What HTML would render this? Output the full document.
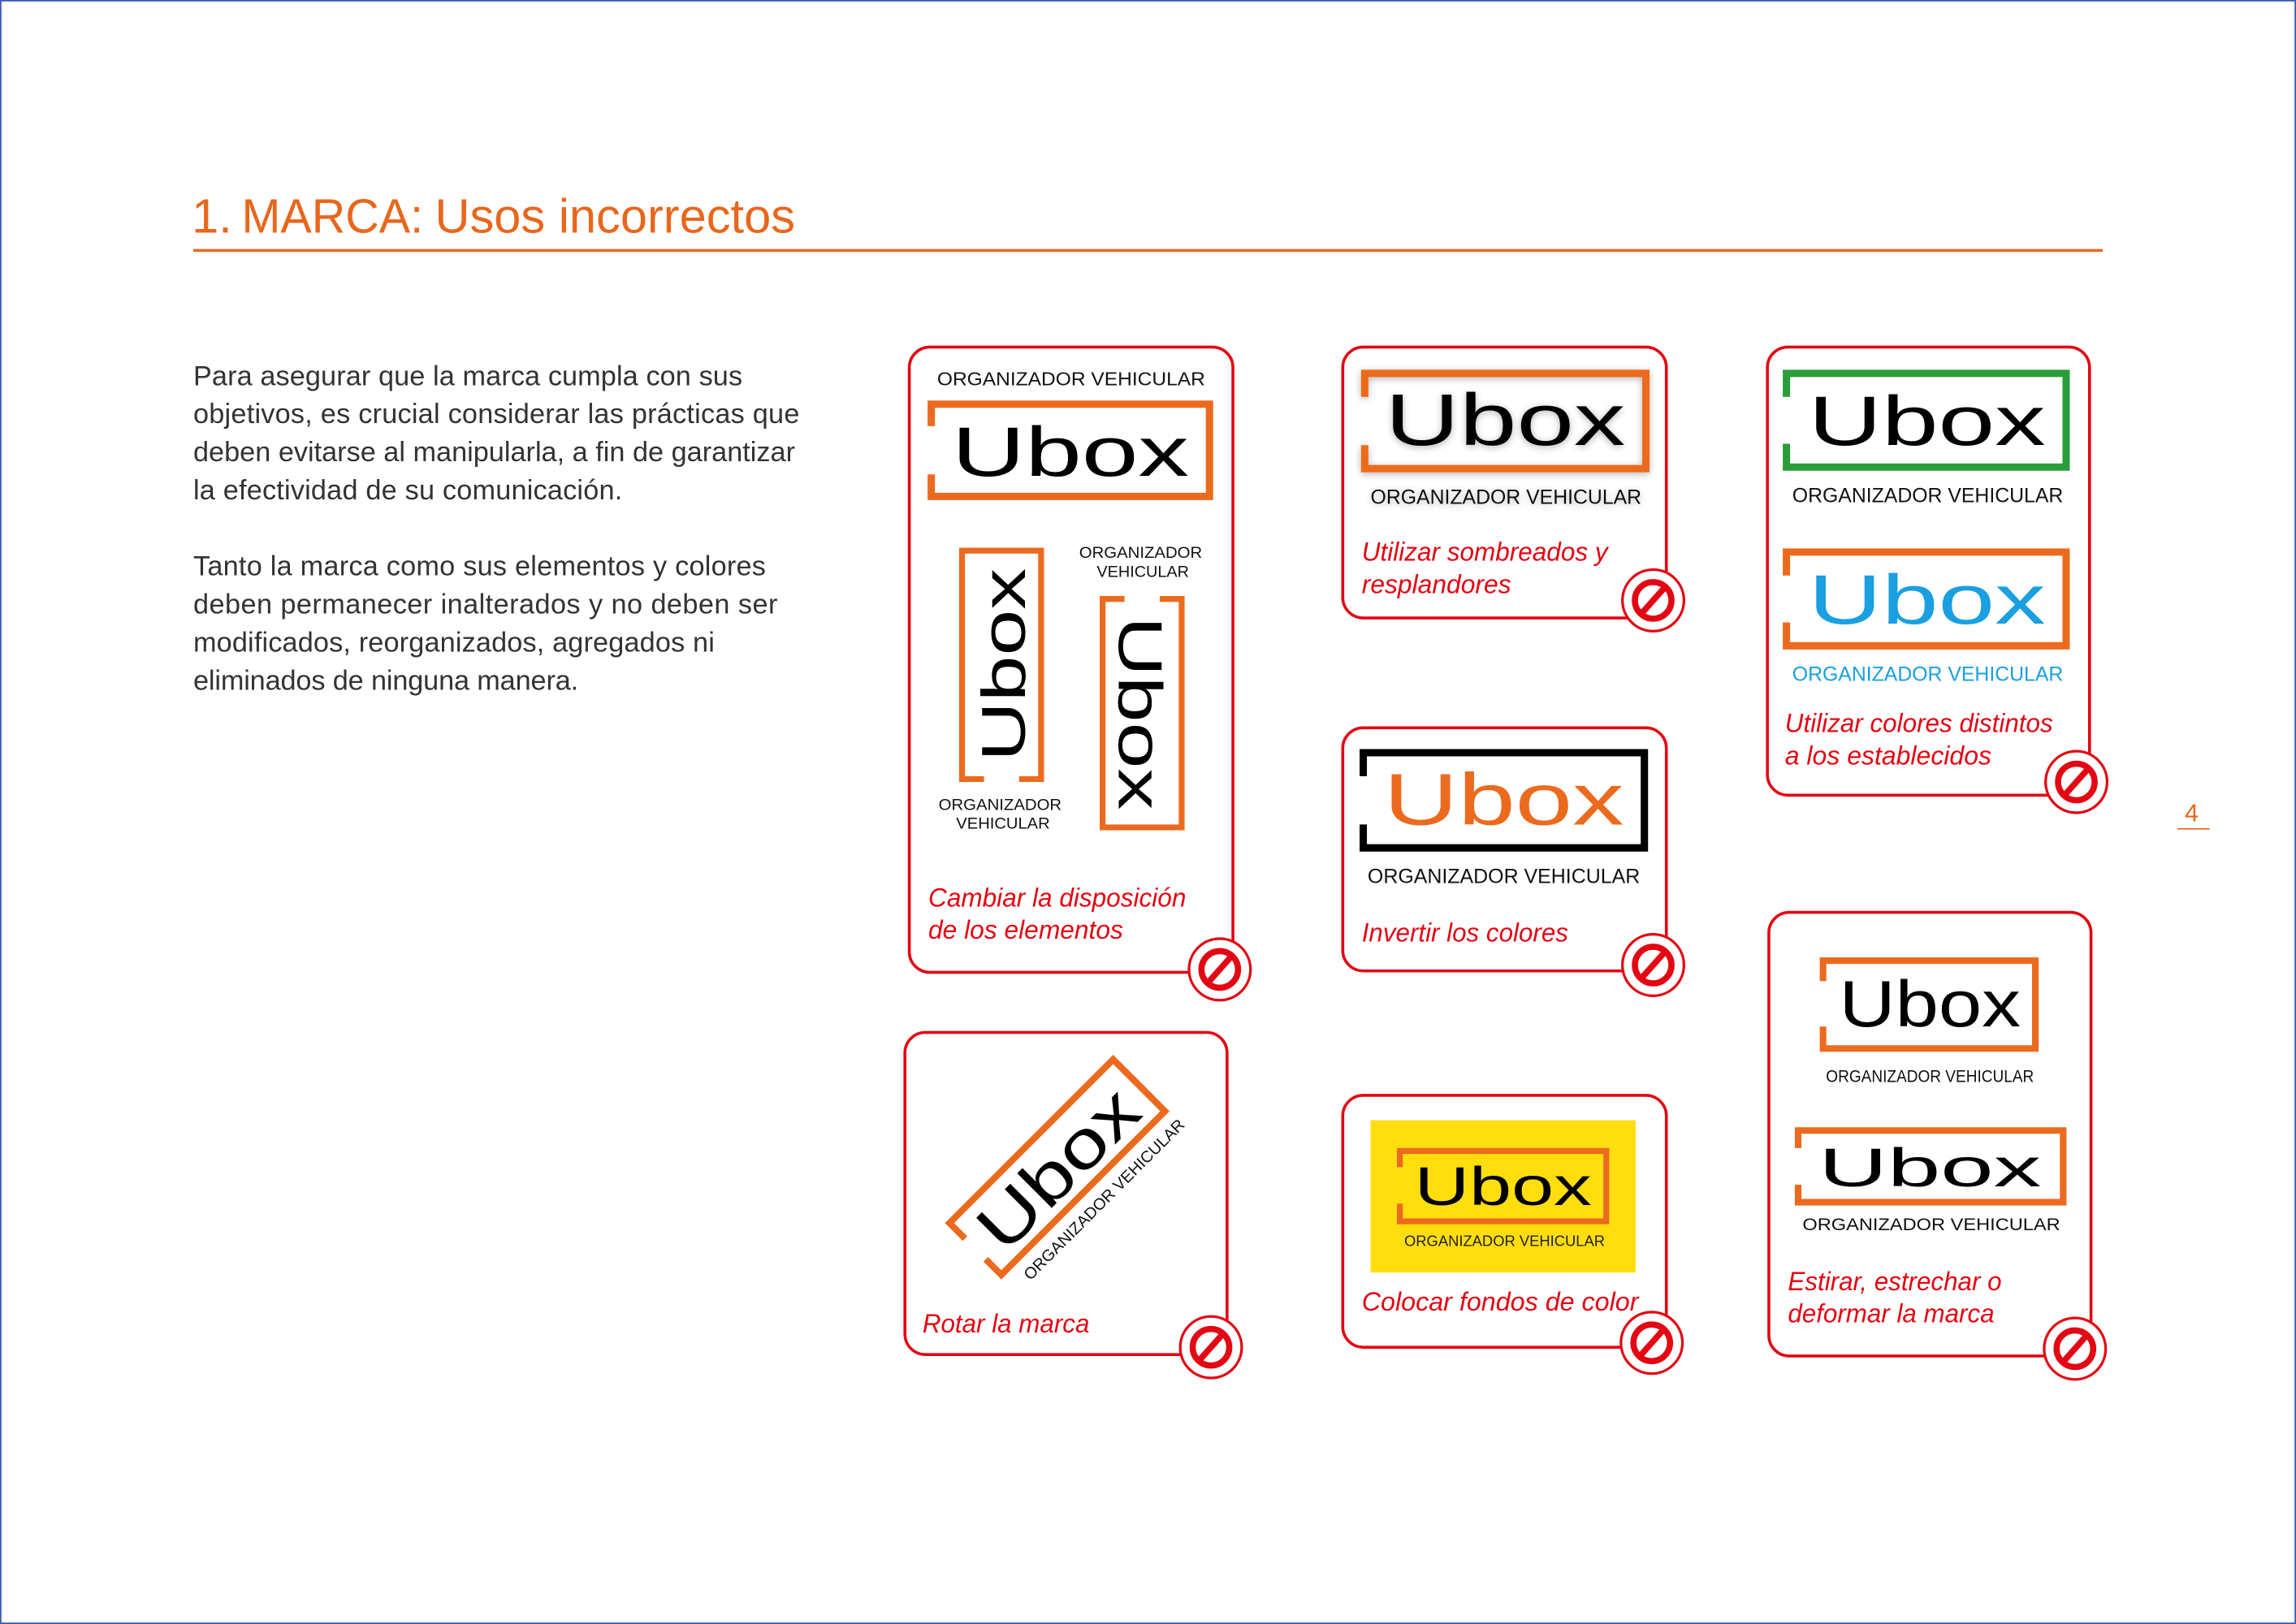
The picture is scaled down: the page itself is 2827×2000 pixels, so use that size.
<!DOCTYPE html>
<html><head><meta charset="utf-8"><style>
html,body{margin:0;padding:0;background:#fff}
svg{display:block}
</style></head><body>
<svg width="2827" height="2000" viewBox="0 0 1568 1109" preserveAspectRatio="none" xmlns="http://www.w3.org/2000/svg" font-family="Liberation Sans, sans-serif">
<defs>
<filter id="sh" x="-20%" y="-30%" width="140%" height="160%"><feGaussianBlur in="SourceAlpha" stdDeviation="2.5"/><feOffset dx="0" dy="1"/><feComponentTransfer><feFuncA type="linear" slope="0.3"/></feComponentTransfer><feMerge><feMergeNode/><feMergeNode in="SourceGraphic"/></feMerge></filter>
<g id="no">
<circle r="21" fill="#fff" stroke="#e30613" stroke-width="1.8"/>
<circle r="12.5" fill="none" stroke="#e30613" stroke-width="4.2"/>
<line x1="8" y1="-9" x2="-8" y2="9" stroke="#e30613" stroke-width="4.2"/>
</g>
</defs>
<rect x="0.5" y="0.5" width="1567" height="1108" fill="#fff" stroke="#3a5cb0" stroke-width="1"/>

<!-- title -->
<g font-size="33" fill="#e8671c">
<text x="131" y="159">1.</text>
<text x="165" y="159" textLength="124" lengthAdjust="spacingAndGlyphs">MARCA:</text>
<text x="297" y="159" textLength="246" lengthAdjust="spacingAndGlyphs">Usos incorrectos</text>
</g>
<line x1="132" y1="171" x2="1436" y2="171" stroke="#ec6a1e" stroke-width="2"/>

<!-- body -->
<g font-size="19" fill="#333">
<text x="132" y="263" textLength="375">Para asegurar que la marca cumpla con sus</text>
<text x="132" y="289" textLength="414">objetivos, es crucial considerar las prácticas que</text>
<text x="132" y="315" textLength="411">deben evitarse al manipularla, a fin de garantizar</text>
<text x="132" y="341" textLength="293">la efectividad de su comunicación.</text>
<text x="132" y="393" textLength="391">Tanto la marca como sus elementos y colores</text>
<text x="132" y="419" textLength="399">deben permanecer inalterados y no deben ser</text>
<text x="132" y="445" textLength="356">modificados, reorganizados, agregados ni</text>
<text x="132" y="471" textLength="263">eliminados de ninguna manera.</text>
</g>

<text x="1492" y="561" font-size="17" fill="#e8671c">4</text>
<line x1="1487" y1="566" x2="1509" y2="566" stroke="#e8671c" stroke-width="1"/>

<!-- cards -->
<g fill="none" stroke="#e30613" stroke-width="2">
<rect x="621" y="237" width="221" height="427" rx="14"/>
<rect x="917" y="237" width="221" height="185" rx="14"/>
<rect x="1207" y="237" width="220" height="306" rx="14"/>
<rect x="917" y="497" width="221" height="166" rx="14"/>
<rect x="618" y="705" width="220" height="220" rx="14"/>
<rect x="917" y="748" width="221" height="172" rx="14"/>
<rect x="1208" y="623" width="220" height="303" rx="14"/>
</g>

<!-- captions -->
<g font-size="18" font-style="italic" fill="#e30613">
<text x="634" y="619" textLength="176" lengthAdjust="spacingAndGlyphs">Cambiar la disposición</text>
<text x="634" y="641" textLength="133" lengthAdjust="spacingAndGlyphs">de los elementos</text>
<text x="930" y="383" textLength="168" lengthAdjust="spacingAndGlyphs">Utilizar sombreados y</text>
<text x="930" y="405" textLength="102" lengthAdjust="spacingAndGlyphs">resplandores</text>
<text x="1219" y="500" textLength="183" lengthAdjust="spacingAndGlyphs">Utilizar colores distintos</text>
<text x="1219" y="522" textLength="141" lengthAdjust="spacingAndGlyphs">a los establecidos</text>
<text x="930" y="643" textLength="141" lengthAdjust="spacingAndGlyphs">Invertir los colores</text>
<text x="630" y="910" textLength="114" lengthAdjust="spacingAndGlyphs">Rotar la marca</text>
<text x="930" y="895" textLength="189" lengthAdjust="spacingAndGlyphs">Colocar fondos de color</text>
<text x="1221" y="881" textLength="146" lengthAdjust="spacingAndGlyphs">Estirar, estrechar o</text>
<text x="1221" y="903" textLength="141" lengthAdjust="spacingAndGlyphs">deformar la marca</text>
</g>

<!-- card1 logos -->
<text x="640" y="263" font-size="13" fill="#111" textLength="183" lengthAdjust="spacingAndGlyphs">ORGANIZADOR VEHICULAR</text>
<path d="M636 291 V276 H826 V339 H636 V324" fill="none" stroke="#ec6a1e" stroke-width="5"/>
<text x="650" y="325" font-size="48" fill="#000" textLength="162" lengthAdjust="spacingAndGlyphs">Ubox</text>

<g transform="translate(684 454) rotate(-90)">
<path d="M-78 -12 V-27 H78 V27 H-78 V12" fill="none" stroke="#ec6a1e" stroke-width="4"/>
<text x="-66" y="16" font-size="42" fill="#000" textLength="132" lengthAdjust="spacingAndGlyphs">Ubox</text>
</g>
<text x="641" y="553" font-size="11" fill="#111" textLength="84" lengthAdjust="spacingAndGlyphs">ORGANIZADOR</text>
<text x="653" y="566" font-size="11" fill="#111" textLength="64" lengthAdjust="spacingAndGlyphs">VEHICULAR</text>

<text x="737" y="381" font-size="11" fill="#111" textLength="84" lengthAdjust="spacingAndGlyphs">ORGANIZADOR</text>
<text x="749" y="394" font-size="11" fill="#111" textLength="63" lengthAdjust="spacingAndGlyphs">VEHICULAR</text>
<g transform="translate(780 487) rotate(90)">
<path d="M-78 -12 V-27 H78 V27 H-78 V12" fill="none" stroke="#ec6a1e" stroke-width="4"/>
<text x="-66" y="16" font-size="42" fill="#000" textLength="132" lengthAdjust="spacingAndGlyphs">Ubox</text>
</g>

<!-- card2 shadow -->
<g filter="url(#sh)">
<path d="M932 271 V255 H1124 V320 H932 V304" fill="none" stroke="#ec6a1e" stroke-width="5"/>
<text x="946" y="304" font-size="50" fill="#000" textLength="164" lengthAdjust="spacingAndGlyphs">Ubox</text>
<text x="936" y="344" font-size="14" fill="#111" textLength="185" lengthAdjust="spacingAndGlyphs">ORGANIZADOR VEHICULAR</text>
</g>

<!-- card3 -->
<path d="M1220 271 V255 H1411 V319 H1220 V303" fill="none" stroke="#2a9d3a" stroke-width="5"/>
<text x="1235" y="304" font-size="48" fill="#000" textLength="162" lengthAdjust="spacingAndGlyphs">Ubox</text>
<text x="1224" y="343" font-size="14" fill="#111" textLength="185" lengthAdjust="spacingAndGlyphs">ORGANIZADOR VEHICULAR</text>
<path d="M1220 393 V377 H1411 V441 H1220 V425" fill="none" stroke="#ec6a1e" stroke-width="5"/>
<text x="1235" y="426" font-size="48" fill="#1a9fe0" textLength="162" lengthAdjust="spacingAndGlyphs">Ubox</text>
<text x="1224" y="465" font-size="14" fill="#1a9fe0" textLength="185" lengthAdjust="spacingAndGlyphs">ORGANIZADOR VEHICULAR</text>

<!-- card4 inverted -->
<path d="M931 530 V514 H1123 V579 H931 V563" fill="none" stroke="#000" stroke-width="5"/>
<text x="945" y="563" font-size="50" fill="#ec6a1e" textLength="164" lengthAdjust="spacingAndGlyphs">Ubox</text>
<text x="934" y="603" font-size="14" fill="#111" textLength="186" lengthAdjust="spacingAndGlyphs">ORGANIZADOR VEHICULAR</text>

<!-- card5 rotated -->
<g transform="translate(722 797) rotate(-45)">
<path d="M-79 -10 V-25 H79 V25 H-79 V10" fill="none" stroke="#ec6a1e" stroke-width="4.5"/>
<text x="-68" y="17" font-size="46" fill="#000" textLength="135" lengthAdjust="spacingAndGlyphs">Ubox</text>
<text x="-68" y="42" font-size="11" fill="#111" textLength="150" lengthAdjust="spacingAndGlyphs">ORGANIZADOR VEHICULAR</text>
</g>

<!-- card6 yellow -->
<rect x="936" y="765" width="181" height="104" fill="#ffdd0f"/>
<path d="M956 797 V786 H1097 V834 H956 V822" fill="none" stroke="#ec6a1e" stroke-width="4"/>
<text x="966" y="823" font-size="37" fill="#000" textLength="121" lengthAdjust="spacingAndGlyphs">Ubox</text>
<text x="959" y="851" font-size="10" fill="#222" textLength="137" lengthAdjust="spacingAndGlyphs">ORGANIZADOR VEHICULAR</text>

<!-- card7 stretched -->
<path d="M1245 670 V656 H1390 V716 H1245 V701" fill="none" stroke="#ec6a1e" stroke-width="4.5"/>
<text x="1256" y="701" font-size="45" fill="#000" textLength="124" lengthAdjust="spacingAndGlyphs">Ubox</text>
<text x="1247" y="739" font-size="12" fill="#111" textLength="142" lengthAdjust="spacingAndGlyphs">ORGANIZADOR VEHICULAR</text>
<path d="M1228 784 V772 H1409 V821 H1228 V809" fill="none" stroke="#ec6a1e" stroke-width="4.5"/>
<text x="1242" y="810" font-size="37" fill="#000" textLength="152" lengthAdjust="spacingAndGlyphs">Ubox</text>
<text x="1231" y="840" font-size="12" fill="#111" textLength="176" lengthAdjust="spacingAndGlyphs">ORGANIZADOR VEHICULAR</text>

<!-- no icons -->
<use href="#no" x="833" y="662"/>
<use href="#no" x="1129" y="410"/>
<use href="#no" x="1418" y="534"/>
<use href="#no" x="1129" y="659"/>
<use href="#no" x="827" y="920"/>
<use href="#no" x="1128" y="917"/>
<use href="#no" x="1417" y="921"/>
</svg>
</body></html>
